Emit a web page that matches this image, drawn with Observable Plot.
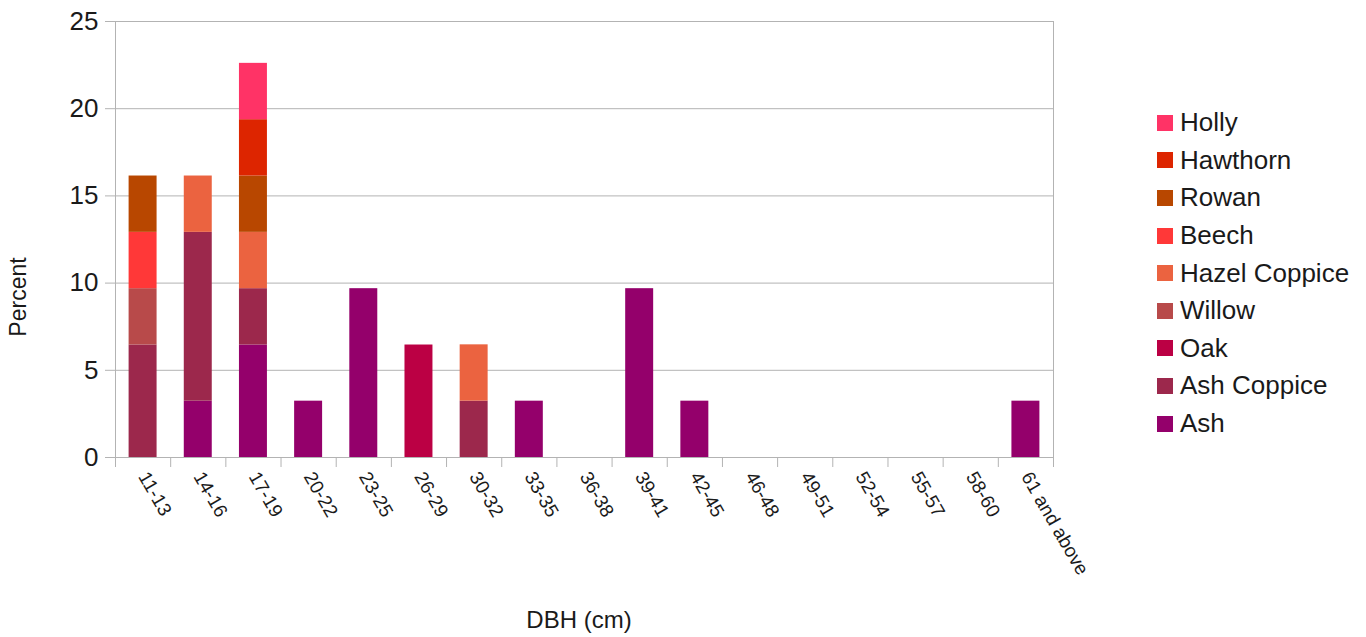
<!DOCTYPE html>
<html>
<head>
<meta charset="utf-8">
<script src="https://cdn.jsdelivr.net/npm/d3@7"></script>
<script src="https://cdn.jsdelivr.net/npm/@observablehq/plot@0.6"></script>
<style>
  body { margin: 0; background: #fff; font-family: "Liberation Sans", Arial, sans-serif; }
  #wrap { position: relative; width: 1366px; height: 637px; overflow: hidden; }
  #chart svg { display: block; }
  .ytitle { position: absolute; left: 18px; top: 297px; transform: translate(-50%, -50%) rotate(-90deg); font-size: 23px; color: #1a1a1a; white-space: nowrap; }
  .xtitle { position: absolute; left: 579px; top: 620px; transform: translate(-50%, -50%); font-size: 24px; color: #1a1a1a; white-space: nowrap; }
  #legend { position: absolute; left: 1157px; top: 104px; font-size: 26px; color: #1a1a1a; }
  .li { display: flex; align-items: center; height: 37.6px; }
  .sw { width: 16px; height: 16px; margin-right: 7px; flex: none; }
</style>
</head>
<body>
<div id="wrap">
  <div id="chart"></div>
  <div class="ytitle">Percent</div>
  <div class="xtitle">DBH (cm)</div>
  <div id="legend"></div>
</div>
<script>
const categories = ["11-13","14-16","17-19","20-22","23-25","26-29","30-32","33-35","36-38","39-41","42-45","46-48","49-51","52-54","55-57","58-60","61 and above"];
// species in stacking order (bottom to top)
const species = ["Ash","Ash Coppice","Oak","Willow","Hazel Coppice","Beech","Rowan","Hawthorn","Holly"];
const colors = ["#94006b","#9c284c","#bb0044","#b84a4a","#eb6340","#ff3838","#b84700","#dd2500","#ff3366"];
const ash          = [0, 3.23, 6.45, 3.23, 9.68, 0, 0, 3.23, 0, 9.68, 3.23, 0, 0, 0, 0, 0, 3.23];
const ashCoppice   = [6.45, 9.68, 3.23, 0, 0, 0, 3.23, 0, 0, 0, 0, 0, 0, 0, 0, 0, 0];
const oak          = [0, 0, 0, 0, 0, 6.45, 0, 0, 0, 0, 0, 0, 0, 0, 0, 0, 0];
const willow       = [3.23, 0, 0, 0, 0, 0, 0, 0, 0, 0, 0, 0, 0, 0, 0, 0, 0];
const hazelCoppice = [0, 3.23, 3.23, 0, 0, 0, 3.23, 0, 0, 0, 0, 0, 0, 0, 0, 0, 0];
const beech        = [3.23, 0, 0, 0, 0, 0, 0, 0, 0, 0, 0, 0, 0, 0, 0, 0, 0];
const rowan        = [3.23, 0, 3.23, 0, 0, 0, 0, 0, 0, 0, 0, 0, 0, 0, 0, 0, 0];
const hawthorn     = [0, 0, 3.23, 0, 0, 0, 0, 0, 0, 0, 0, 0, 0, 0, 0, 0, 0];
const holly        = [0, 0, 3.23, 0, 0, 0, 0, 0, 0, 0, 0, 0, 0, 0, 0, 0, 0];
const yTicks = [0, 5, 10, 15, 20, 25];

const series = [ash, ashCoppice, oak, willow, hazelCoppice, beech, rowan, hawthorn, holly];
const rows = [];
species.forEach((s, si) => {
  series[si].forEach((v, ci) => { if (v > 0) rows.push({cat: categories[ci], species: s, value: v}); });
});

const W = 1366, H = 637, ML = 115, MR = 313, MT = 21, MB = 180;
const bw = (W - ML - MR) / categories.length;
const gray = "#b3b3b3";

const plot = Plot.plot({
  width: W, height: H,
  marginLeft: ML, marginRight: MR, marginTop: MT, marginBottom: MB,
  style: {fontFamily: "Liberation Sans, Arial, sans-serif", color: "#1a1a1a", background: "#fff"},
  x: {type: "band", domain: categories, padding: 0, round: false, label: null},
  y: {domain: [0, 25], label: null},
  color: {domain: species, range: colors},
  marks: [
    Plot.gridY(yTicks, {stroke: gray, strokeOpacity: 1}),
    Plot.frame({stroke: gray}),
    Plot.barY(rows, Plot.stackY({x: "cat", y: "value", fill: "species", order: species, insetLeft: 13.6, insetRight: 13.6})),
    Plot.ruleX(categories, {x: d => d, y1: 0, y2: 0, insetTop: 10, dx: -bw / 2, stroke: gray}),
    Plot.ruleX(categories.slice(-1), {x: d => d, y1: 0, y2: 0, insetTop: 10, dx: bw / 2, stroke: gray}),
    Plot.axisY(yTicks, {tickSize: 10, tickPadding: 7, fontSize: 26, stroke: gray, fill: "#1a1a1a", label: null}),
    Plot.axisX({tickSize: 0, tickRotate: 60, tickPadding: 16, fontSize: 19, fill: "#1a1a1a", label: null})
  ]
});
document.getElementById("chart").appendChild(plot);

const legend = document.getElementById("legend");
species.slice().reverse().forEach(s => {
  const row = document.createElement("div");
  row.className = "li";
  const sw = document.createElement("span");
  sw.className = "sw";
  sw.style.background = colors[species.indexOf(s)];
  const t = document.createElement("span");
  t.textContent = s;
  row.appendChild(sw); row.appendChild(t);
  legend.appendChild(row);
});
</script>
</body>
</html>
